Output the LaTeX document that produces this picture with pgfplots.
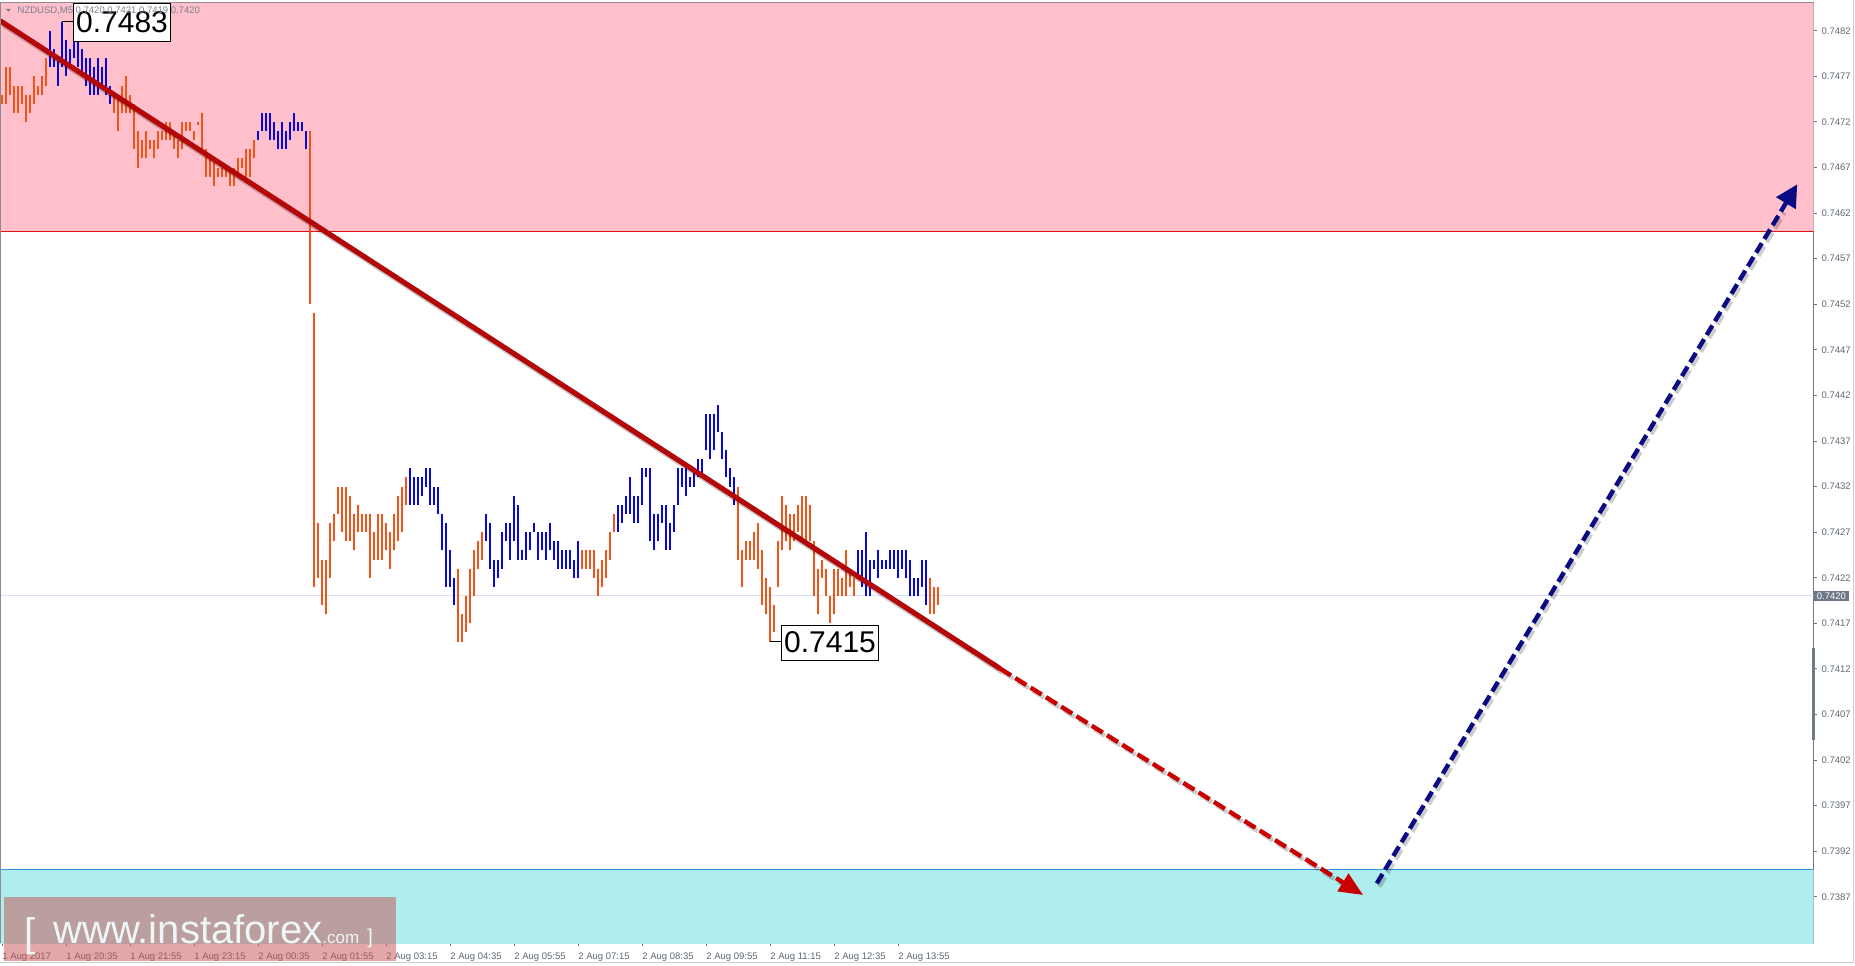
\documentclass[border=0pt]{standalone}
\usepackage{pgfplots}
\pgfplotsset{compat=1.18}
\usepackage{pgfplotstable}
\usetikzlibrary{arrows.meta}
\usepackage{fontspec}
\setmainfont{Liberation Sans}
\definecolor{zonepink}{RGB}{255,192,203}
\definecolor{zonecyan}{RGB}{175,238,238}
\definecolor{zonered}{RGB}{220,20,20}
\definecolor{zoneblue}{RGB}{50,150,220}
\definecolor{barorange}{RGB}{243,83,22}
\definecolor{barblue}{RGB}{8,8,222}
\definecolor{trendred}{RGB}{180,8,8}
\definecolor{arrowred}{RGB}{200,0,0}
\definecolor{arrownavy}{RGB}{10,10,130}
\definecolor{labelgray}{RGB}{95,105,120}
\definecolor{axisslate}{RGB}{110,120,135}
\definecolor{borderg}{RGB}{140,140,140}
\definecolor{curline}{RGB}{222,222,246}
\definecolor{wmred}{RGB}{200,80,80}
\definecolor{wmtext}{RGB}{238,246,246}
\definecolor{titlegray}{RGB}{120,128,140}

\pgfplotstableread{
x lo hi
0 0.7474 0.7475
1 0.7474 0.7478
2 0.7475 0.7478
3 0.7473 0.7476
4 0.7473 0.7476
5 0.7474 0.7476
6 0.7472 0.7475
7 0.7473 0.7475
8 0.7474 0.7477
9 0.7475 0.7476
10 0.7475 0.7477
11 0.7476 0.7479
28 0.7473 0.7475
29 0.7471 0.7475
30 0.7473 0.7476
31 0.7473 0.7477
32 0.7473 0.7475
33 0.7469 0.7474
34 0.7467 0.7471
35 0.7468 0.7470
36 0.7468 0.7471
37 0.7469 0.7470
38 0.7468 0.7470
39 0.7469 0.7471
40 0.7470 0.7471
41 0.7470 0.7472
42 0.7470 0.7472
43 0.7469 0.7471
44 0.7468 0.7470
45 0.7469 0.7472
46 0.7471 0.7472
47 0.7471 0.7472
48 0.7470 0.7471
49 0.74717 0.7472
50 0.7469 0.7473
51 0.7466 0.7469
52 0.7466 0.7468
53 0.7465 0.7468
54 0.7466 0.7467
55 0.7466 0.7467
56 0.7466 0.7467
57 0.7465 0.7467
58 0.7465 0.7467
59 0.7466 0.7468
60 0.7467 0.7468
61 0.7466 0.7469
62 0.7466 0.7469
63 0.7468 0.7470
77 0.7452 0.7471
78 0.7421 0.7451
79 0.7422 0.7428
80 0.7419 0.7424
81 0.7418 0.7424
82 0.7422 0.7428
83 0.7426 0.7429
84 0.7429 0.7432
85 0.7427 0.7432
86 0.7426 0.7432
87 0.7426 0.7431
88 0.7425 0.7429
89 0.7427 0.7430
90 0.7427 0.7429
91 0.7427 0.7429
92 0.7422 0.7429
93 0.7424 0.7427
94 0.7424 0.7429
95 0.7424 0.7429
96 0.7425 0.7428
97 0.7423 0.7427
98 0.7425 0.7429
99 0.7426 0.7431
100 0.7427 0.7432
101 0.7430 0.7433
114 0.7415 0.7423
115 0.7415 0.7418
116 0.7416 0.7420
117 0.7417 0.7423
118 0.7420 0.7425
119 0.7423 0.7426
120 0.7424 0.7427
145 0.7423 0.7425
146 0.7423 0.7425
147 0.7423 0.7425
148 0.7422 0.7425
149 0.7420 0.7423
150 0.7421 0.7424
151 0.7422 0.7425
152 0.7424 0.7427
153 0.7427 0.7429
184 0.7424 0.7432
185 0.7421 0.7425
186 0.7424 0.7426
187 0.7424 0.7426
188 0.7424 0.7427
189 0.7423 0.7428
190 0.7419 0.7425
191 0.7418 0.7422
192 0.7415 0.7421
193 0.7416 0.7419
194 0.7421 0.7426
195 0.7425 0.7431
196 0.7426 0.7430
197 0.7425 0.7429
198 0.7426 0.7429
199 0.7427 0.7430
200 0.7426 0.7431
201 0.7426 0.7431
202 0.7426 0.7430
203 0.7420 0.7426
204 0.7418 0.7423
205 0.7422 0.7424
206 0.7420 0.7423
207 0.7417 0.7420
208 0.7418 0.7423
209 0.7420 0.7423
210 0.7420 0.7422
211 0.7420 0.7425
212 0.7421 0.7423
213 0.7420 0.7422
232 0.7418 0.7422
233 0.7418 0.7421
234 0.7419 0.7421
}\orangebars

\pgfplotstableread{
x lo hi
12 0.7478 0.7482
13 0.7478 0.7480
14 0.7476 0.7479
15 0.7478 0.7483
16 0.7477 0.7481
17 0.7478 0.7480
18 0.7479 0.7481
19 0.7478 0.7481
20 0.7477 0.7480
21 0.7476 0.7479
22 0.7475 0.7479
23 0.7475 0.7478
24 0.7475 0.7479
25 0.7476 0.7478
26 0.7475 0.7479
27 0.7474 0.7476
64 0.7470 0.7471
65 0.7471 0.7473
66 0.7471 0.7473
67 0.7470 0.7473
68 0.7470 0.7472
69 0.7469 0.7471
70 0.7469 0.7472
71 0.7469 0.7471
72 0.7470 0.7472
73 0.7471 0.7473
74 0.7471 0.7472
75 0.7471 0.7472
76 0.7469 0.7471
102 0.7430 0.7434
103 0.7430 0.7433
104 0.7430 0.7433
105 0.7431 0.7433
106 0.7432 0.7434
107 0.7430 0.7434
108 0.7430 0.7432
109 0.7429 0.7432
110 0.7425 0.7429
111 0.7421 0.7428
112 0.7421 0.7425
113 0.7419 0.7422
121 0.7426 0.7429
122 0.7423 0.7428
123 0.7421 0.7424
124 0.7422 0.7424
125 0.7423 0.7427
126 0.7426 0.7428
127 0.7424 0.7428
128 0.7426 0.7431
129 0.7424 0.7430
130 0.7424 0.7425
131 0.7424 0.7427
132 0.7425 0.7427
133 0.7427 0.7428
134 0.7424 0.7427
135 0.7425 0.7427
136 0.7424 0.7427
137 0.7425 0.7428
138 0.7424 0.7426
139 0.7423 0.7426
140 0.7423 0.7425
141 0.7423 0.7425
142 0.7423 0.7425
143 0.7422 0.7424
144 0.7422 0.7426
154 0.7427 0.7430
155 0.7428 0.7430
156 0.7429 0.7431
157 0.7429 0.7433
158 0.7428 0.7431
159 0.7428 0.7431
160 0.7430 0.7434
161 0.7433 0.7434
162 0.7426 0.7434
163 0.7425 0.7429
164 0.7426 0.7429
165 0.7428 0.7430
166 0.7425 0.7430
167 0.7425 0.7428
168 0.7427 0.7430
169 0.7430 0.7434
170 0.7432 0.7434
171 0.7431 0.7434
172 0.7432 0.7433
173 0.7432 0.7434
174 0.7433 0.7435
175 0.7433 0.7435
176 0.7436 0.7440
177 0.7435 0.7440
178 0.7436 0.7440
179 0.7438 0.7441
180 0.7435 0.7438
181 0.7433 0.7436
182 0.7432 0.7434
183 0.7430 0.7433
214 0.7422 0.7425
215 0.7421 0.7425
216 0.7420 0.7427
217 0.7420 0.7424
218 0.7423 0.7424
219 0.7422 0.7425
220 0.7423 0.7424
221 0.7423 0.7424
222 0.7423 0.7425
223 0.7423 0.7425
224 0.7422 0.7425
225 0.7423 0.7425
226 0.7422 0.7425
227 0.7420 0.7424
228 0.7420 0.7422
229 0.7420 0.7422
230 0.7421 0.7424
231 0.7419 0.7424
}\bluebars

\begin{document}
\begin{tikzpicture}
\fill[white] (0,-11pt) rectangle (927.5pt,471.5pt);
\begin{axis}[
  at={(0,0)}, anchor=south west,
  scale only axis, width=906.8pt, height=470.3pt,
  xmin=-0.5, xmax=452.9, ymin=0.738193, ymax=0.748512,
  axis x line*=bottom, axis y line*=right,
  axis line style={-, draw=axisslate, line width=0.6pt},
  tick align=outside, major tick length=1.6pt,
  tick style={draw=axisslate, line width=0.5pt},
  xtick={0,16,...,224},
  xticklabels={1 Aug 2017, 1 Aug 20:35, 1 Aug 21:55, 1 Aug 23:15, 2 Aug 00:35, 2 Aug 01:55, 2 Aug 03:15, 2 Aug 04:35, 2 Aug 05:55, 2 Aug 07:15, 2 Aug 08:35, 2 Aug 09:55, 2 Aug 11:15, 2 Aug 12:35, 2 Aug 13:55},
  ytick={0.7387,0.7392,0.7397,0.7402,0.7407,0.7412,0.7417,0.7422,0.7427,0.7432,0.7437,0.7442,0.7447,0.7452,0.7457,0.7462,0.7467,0.7472,0.7477,0.7482},
  yticklabels={0.7387,0.7392,0.7397,0.7402,0.7407,0.7412,0.7417,0.7422,0.7427,0.7432,0.7437,0.7442,0.7447,0.7452,0.7457,0.7462,0.7467,0.7472,0.7477,0.7482},
  tick label style={font=\fontsize{4.75}{5}\selectfont, text=labelgray},
  xticklabel style={anchor=north west, inner sep=0pt, yshift=-3pt},
  yticklabel style={anchor=west, inner sep=0pt, xshift=2.2pt},
  clip mode=individual,
]
% zones
\addplot[draw=none, fill=zonepink] coordinates {(-0.5,0.7460) (452.9,0.7460) (452.9,0.7487) (-0.5,0.7487)} -- cycle;
\addplot[draw=zonered, line width=0.5pt] coordinates {(-0.5,0.7460) (452.9,0.7460)};
\addplot[draw=none, fill=zonecyan] coordinates {(-0.5,0.7380) (452.9,0.7380) (452.9,0.7390) (-0.5,0.7390)} -- cycle;
\addplot[draw=zoneblue, line width=0.5pt] coordinates {(-0.5,0.7390) (452.9,0.7390)};
% current price line
\addplot[draw=curline, line width=0.5pt] coordinates {(-0.5,0.7420) (452.9,0.7420)};
% bars
\addplot[barorange, line width=1pt, quiver={u=0, v=\thisrow{hi}-\thisrow{lo}}] table[x=x, y=lo] {\orangebars};
\addplot[barblue, line width=1pt, quiver={u=0, v=\thisrow{hi}-\thisrow{lo}}] table[x=x, y=lo] {\bluebars};
% shadows
\addplot[black, opacity=0.22, line width=2.8pt, xshift=1.2pt, yshift=-1.6pt] coordinates {(-0.5,0.748311) (249.5,0.741204)};
\addplot[black, opacity=0.2, line width=2.2pt, xshift=1.2pt, yshift=-1.6pt, dash pattern=on 6.5pt off 2.5pt] coordinates {(249.5,0.741204) (336,0.738835)};
\addplot[black, opacity=0.2, line width=2.2pt, xshift=1.2pt, yshift=-1.6pt, dash pattern=on 5.5pt off 2.5pt] coordinates {(343.7,0.738847) (445,0.746240)};
% trend line and forecasts
\addplot[trendred, line width=2.6pt] coordinates {(-0.5,0.748311) (249.5,0.741204)};
\addplot[arrowred, line width=2.2pt, dash pattern=on 6.5pt off 2.5pt, -{Triangle[length=12pt,width=10pt]}] coordinates {(249.5,0.741204) (340.3,0.738719)};
\addplot[arrownavy, line width=2.2pt, dash pattern=on 5.5pt off 2.5pt, -{Triangle[length=11pt,width=11pt]}] coordinates {(343.7,0.738847) (448.8,0.746516)};
% extreme labels
\draw[black, line width=0.5pt] (axis cs:15,0.7483) -- (axis cs:17.75,0.7483);
\node[draw=black, fill=white, line width=0.5pt, anchor=west, minimum width=48.5pt, minimum height=19.2pt, inner sep=0pt, font=\fontsize{15}{15}\selectfont] at (axis cs:17.75,0.74829) {0.7483};
\draw[black, line width=0.5pt] (axis cs:192,0.7415) -- (axis cs:194.75,0.7415);
\node[draw=black, fill=white, line width=0.5pt, anchor=west, minimum width=48.5pt, minimum height=17.5pt, inner sep=0pt, font=\fontsize{15}{15}\selectfont] at (axis cs:194.75,0.741489) {0.7415};
% right-axis current price marker and scroll marker
\node[fill=axisslate, text=white, anchor=west, inner xsep=1.4pt, inner ysep=1pt, font=\fontsize{4.75}{5}\selectfont] at (axis cs:452.9,0.7420) {0.7420};
\draw[axisslate, line width=1.3pt] (axis cs:452.9,0.741429) -- (axis cs:452.9,0.740425);
% left and top border
\draw[borderg, line width=0.6pt] (rel axis cs:0,0) -- (rel axis cs:0,1) -- (rel axis cs:1,1);
\end{axis}
% title
\fill[titlegray] (2.9pt,467.1pt) -- (5.5pt,467.1pt) -- (4.2pt,465.6pt) -- cycle;
\node[anchor=base west, inner sep=0pt, text=titlegray, font=\fontsize{4.75}{5}\selectfont] at (8.65pt,464.5pt) {NZDUSD,M5 0.7420 0.7421 0.7419 0.7420};
% watermark
\fill[wmred, opacity=0.5] (1.75pt,22.9pt) rectangle (198pt,-8.8pt);
\node[anchor=base west, inner sep=0pt, text=wmtext, font=\fontsize{20}{20}\selectfont] at (11.85pt,-1.5pt) {[};
\node[anchor=base west, inner sep=0pt, text=wmtext, font=\fontsize{20}{20}\selectfont] at (26.5pt,0pt) {www.instaforex{\fontsize{8.5}{9}\selectfont.com}};
\node[anchor=base west, inner sep=0pt, text=wmtext, font=\fontsize{10}{10}\selectfont] at (183.5pt,0pt) {]};
% outer frame
\draw[black!20, line width=0.6pt] (926.6pt,471.5pt) -- (926.6pt,-9.6pt) -- (0pt,-9.6pt);
\pgfresetboundingbox
\path[use as bounding box] (0,-11pt) rectangle (927.5pt,471.5pt);
\end{tikzpicture}
\end{document}
